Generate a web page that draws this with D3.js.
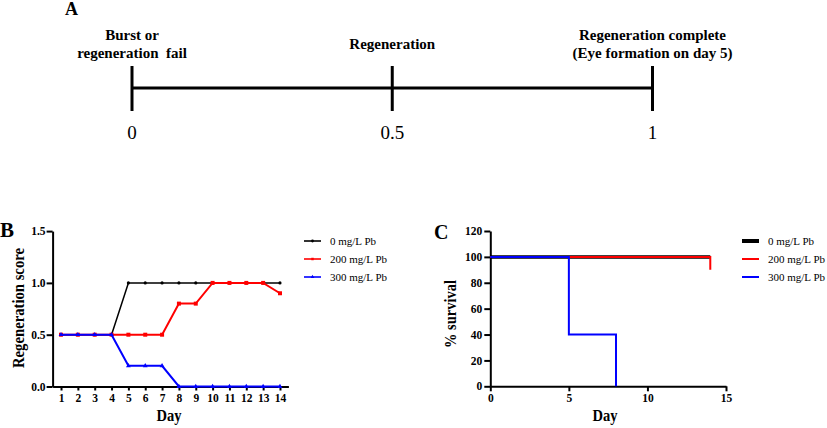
<!DOCTYPE html>
<html><head><meta charset="utf-8">
<script src="https://cdn.jsdelivr.net/npm/d3@7"></script>
<style>
body{margin:0;background:#fff;}
svg{display:block;font-family:"Liberation Serif","Times New Roman",serif;}
</style></head><body>
<svg id="c" width="827" height="428"></svg>
<script>
// ---- Panel A data ----
const stageValues = [0, 0.5, 1];
const stageTickLabels = ["0", "0.5", "1"];
const stageLabels = [["Burst or", "regeneration  fail"], ["Regeneration"], ["Regeneration complete", "(Eye formation on day 5)"]];

// ---- Panel B data ----
const days = [1,2,3,4,5,6,7,8,9,10,11,12,13,14];
const score0 = [0.5,0.5,0.5,0.5,1,1,1,1,1,1,1,1,1,1];
const score200 = [0.5,0.5,0.5,0.5,0.5,0.5,0.5,0.8,0.8,1,1,1,1,0.9];
const score300 = [0.5,0.5,0.5,0.5,0.2,0.2,0.2,0,0,0,0,0,0,0];
const scoreTicks = [0, 0.5, 1.0, 1.5];
const seriesNames = ["0 mg/L Pb", "200 mg/L Pb", "300 mg/L Pb"];
const seriesColors = ["#000000", "#ff0000", "#0000ff"];

// ---- Panel C data (Kaplan-Meier steps) ----
const surv0Day = [0, 14], surv0 = [100, 100];
const surv200Day = [0, 14, 14], surv200 = [100, 100, 90];
const surv300Day = [0, 5, 5, 8, 8], surv300 = [100, 100, 40, 40, 0];
const survTicks = [0, 20, 40, 60, 80, 100, 120];
const dayTicksC = [0, 5, 10, 15];

const svg = d3.select("#c");

// ================= Panel A =================
svg.append("text").attr("x", 65).attr("y", 15).attr("font-size", 18).attr("font-weight", "bold").text("A");
const xA = d3.scaleLinear().domain([0, 1]).range([132, 652.5]);
const gA = svg.append("g");
gA.append("line").attr("x1", xA(0)).attr("x2", xA(1)).attr("y1", 88).attr("y2", 88)
  .attr("stroke", "#000").attr("stroke-width", 3);
gA.selectAll(".tk").data(stageValues).join("line")
  .attr("x1", d => xA(d)).attr("x2", d => xA(d)).attr("y1", 66).attr("y2", 111)
  .attr("stroke", "#000").attr("stroke-width", 3);
gA.selectAll(".tl").data(stageValues).join("text")
  .attr("x", d => xA(d)).attr("y", 139).attr("text-anchor", "middle").attr("font-size", 19)
  .text((d, i) => stageTickLabels[i]);
stageValues.forEach((v, i) => {
  const lines = stageLabels[i];
  const base = lines.length === 2 ? [40, 58] : [49];
  lines.forEach((t, j) => {
    gA.append("text").attr("x", xA(v)).attr("y", base[j]).attr("text-anchor", "middle")
      .attr("font-size", 15).attr("font-weight", "bold").attr("xml:space", "preserve").text(t);
  });
});

// ================= Panel B =================
svg.append("text").attr("x", 0).attr("y", 236.5).attr("font-size", 21).attr("font-weight", "bold").text("B");
const xB = d3.scaleLinear().domain([0.5, 14.5]).range([52.6, 288.4]);
const yB = d3.scaleLinear().domain([0, 1.5]).range([386.5, 231.1]);
const gB = svg.append("g");
const axYB = gB.append("g").attr("transform", `translate(${xB(0.5)},0)`)
  .call(d3.axisLeft(yB).tickValues(scoreTicks).tickFormat(d3.format(".1f")).tickSize(6).tickSizeOuter(0).tickPadding(1));
const axXB = gB.append("g").attr("transform", `translate(0,${yB(0)})`)
  .call(d3.axisBottom(xB).tickValues(days).tickFormat(d3.format("d")).tickSize(4).tickSizeOuter(0).tickPadding(3));
[axYB, axXB].forEach(a => {
  a.select(".domain").attr("stroke-width", 2);
  a.selectAll(".tick line").attr("stroke-width", 2);
  a.selectAll(".tick text").attr("font-size", 11.5).attr("font-weight", "bold")
    .attr("font-family", "Liberation Serif, serif").attr("fill", "#000");
});
gB.append("text").attr("x", 169).attr("y", 421).attr("text-anchor", "middle")
  .attr("font-size", 17).attr("font-weight", "bold").attr("textLength", 25).attr("lengthAdjust", "spacingAndGlyphs").text("Day");
gB.append("text").attr("transform", "translate(24,308) rotate(-90)").attr("text-anchor", "middle")
  .attr("font-size", 17).attr("font-weight", "bold").attr("textLength", 120).attr("lengthAdjust", "spacingAndGlyphs").text("Regeneration score");

const lineB = d3.line().x(d => xB(d[0])).y(d => yB(d[1]));
const scoreSeries = [score0, score200, score300];
scoreSeries.forEach((s, i) => {
  const pts = days.map((d, k) => [d, s[k]]);
  gB.append("path").attr("d", lineB(pts)).attr("fill", "none").attr("stroke", seriesColors[i])
    .attr("stroke-width", i === 0 ? 1.5 : 2);
  const sym = [d3.symbolCircle, d3.symbolSquare, d3.symbolTriangle][i];
  const size = [8, 16, 10][i];
  gB.selectAll(null).data(pts).join("path")
    .attr("transform", d => `translate(${xB(d[0])},${yB(d[1])})`)
    .attr("d", d3.symbol(sym, size)).attr("fill", seriesColors[i]);
});
// Legend B
seriesNames.forEach((n, i) => {
  const y = 241 + i * 18;
  gB.append("line").attr("x1", 304).attr("x2", 321).attr("y1", y).attr("y2", y)
    .attr("stroke", seriesColors[i]).attr("stroke-width", 1.6);
  const sym = [d3.symbolCircle, d3.symbolSquare, d3.symbolTriangle][i];
  gB.append("path").attr("transform", `translate(312.5,${y})`).attr("d", d3.symbol(sym, 6)).attr("fill", seriesColors[i]);
  gB.append("text").attr("x", 330).attr("y", y + 4).attr("font-size", 11).text(n);
});

// ================= Panel C =================
svg.append("text").attr("x", 434).attr("y", 238.5).attr("font-size", 20).attr("font-weight", "bold").text("C");
const xC = d3.scaleLinear().domain([0, 15]).range([490.3, 726]);
const yC = d3.scaleLinear().domain([0, 120]).range([386.3, 231]);
const gC = svg.append("g");
const axYC = gC.append("g").attr("transform", `translate(${xC(0)},0)`)
  .call(d3.axisLeft(yC).tickValues(survTicks).tickFormat(d3.format("d")).tickSize(6).tickSizeOuter(0).tickPadding(2));
const axXC = gC.append("g").attr("transform", `translate(0,${yC(0)})`)
  .call(d3.axisBottom(xC).tickValues(dayTicksC).tickFormat(d3.format("d")).tickSize(5).tickSizeOuter(0).tickPadding(3));
[axYC, axXC].forEach(a => {
  a.select(".domain").attr("stroke-width", 2);
  a.selectAll(".tick line").attr("stroke-width", 2);
  a.selectAll(".tick text").attr("font-size", 11.5).attr("font-weight", "bold")
    .attr("font-family", "Liberation Serif, serif").attr("fill", "#000");
});
gC.append("text").attr("x", 605).attr("y", 421).attr("text-anchor", "middle")
  .attr("font-size", 17).attr("font-weight", "bold").attr("textLength", 25).attr("lengthAdjust", "spacingAndGlyphs").text("Day");
gC.append("text").attr("transform", "translate(456,314) rotate(-90)").attr("text-anchor", "middle")
  .attr("font-size", 17).attr("font-weight", "bold").attr("textLength", 68).attr("lengthAdjust", "spacingAndGlyphs").text("% survival");

const lineC = d3.line().x(d => xC(d[0])).y(d => yC(d[1]));
const survSeries = [[surv0Day, surv0], [surv200Day, surv200], [surv300Day, surv300]];
const survWidths = [3.5, 2, 2];
survSeries.forEach((s, i) => {
  const pts = s[0].map((d, k) => [d, s[1][k]]);
  gC.append("path").attr("d", lineC(pts)).attr("fill", "none").attr("stroke", seriesColors[i])
    .attr("stroke-width", survWidths[i]);
});
seriesNames.forEach((n, i) => {
  const y = 241 + i * 18;
  gC.append("line").attr("x1", 742).attr("x2", 759).attr("y1", y).attr("y2", y)
    .attr("stroke", seriesColors[i]).attr("stroke-width", survWidths[i] + (i === 0 ? 0.5 : 0));
  gC.append("text").attr("x", 768).attr("y", y + 4).attr("font-size", 11).text(n);
});
</script>
</body></html>
